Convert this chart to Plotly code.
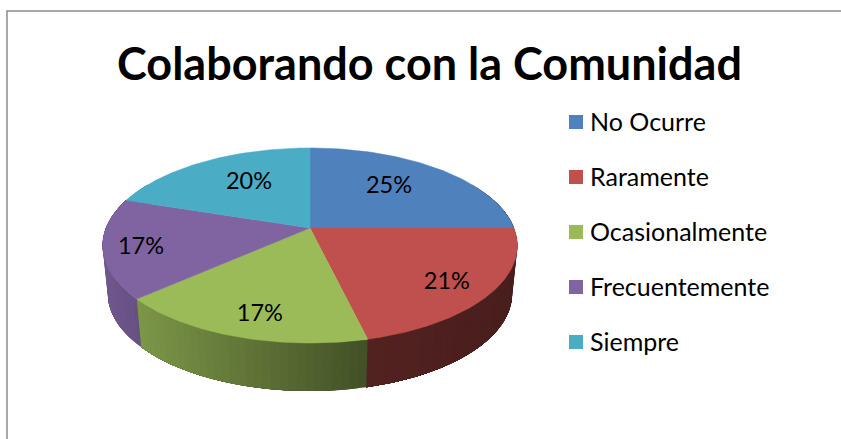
import numpy as np
import plotly.graph_objects as go

title = "Colaborando con la Comunidad"
categories = ["No Ocurre", "Raramente", "Ocasionalmente", "Frecuentemente", "Siempre"]
values = [25, 21.25, 17.2, 16.55, 20]
colors = ["#4F81BD", "#C0504D", "#9BBB59", "#8064A2", "#4BACC6"]

# pie projection (pixel-space axes), a tilted disc with perspective
HUB_X, HUB_Y = 310, 228
RX, RY, PERSP = 204, 94.4, -0.1795
DEPTH, DEPTH_SCALE = 48, 0.975
# label placement relative to each slice's middle angle
label_radius = [0.651, 0.795, 0.804, 0.822, 0.638]
label_nudge = [-4.6, 1.7, -2.2, -1.1, 5.0]
LABEL_DY = 2
legend_y = [122, 177, 232, 287, 342]
LEGEND_X = 576
LEGEND_TEXT_X = 590
LEGEND_TEXT_DY = 2.5


def project(u, v):
    d = 1 + PERSP * v
    return HUB_X + RX * u / d, HUB_Y + RY * v / d


def top(theta):
    t = np.radians(theta)
    return project(np.sin(t), -np.cos(t))


def bottom(theta):
    x, y = top(theta)
    return HUB_X + DEPTH_SCALE * (x - HUB_X), y + DEPTH


def shade(hex_color, x):
    f = np.interp(x, [102, 140, 368, 516], [0.88, 0.80, 0.43, 0.38])
    rgb = [int(hex_color[i:i + 2], 16) for i in (1, 3, 5)]
    return "rgb({},{},{})".format(*[int(c * f) for c in rgb])


fig = go.Figure()
edges = np.concatenate([[0], np.cumsum(values)]) / sum(values) * 360

# side walls: nested polygons, painted so each overlaps the next to avoid seams
for i, c in enumerate(colors):
    a0, a1 = max(edges[i], 60), min(edges[i + 1], 300)
    if a1 <= a0:
        continue
    steps = np.linspace(a0, a1, max(2, int((a1 - a0) / 2) + 1))
    for s0, s1 in zip(steps[:-1], steps[1:]):
        arc = np.linspace(s0, a1, 40)
        xt, yt = top(arc)
        xb, yb = bottom(arc[::-1])
        col = shade(c, float(top((s0 + s1) / 2)[0]))
        fig.add_trace(go.Scatter(x=np.r_[xt, xb], y=np.r_[yt, yb], mode="lines", fill="toself",
                                 fillcolor=col, line=dict(width=0), hoverinfo="skip",
                                 showlegend=False))

# top faces
for i, c in enumerate(colors):
    th = np.linspace(edges[i], edges[i + 1], 80)
    xs, ys = top(th)
    fig.add_trace(go.Scatter(x=np.r_[HUB_X, xs, HUB_X], y=np.r_[HUB_Y, ys, HUB_Y], mode="lines",
                             fill="toself", fillcolor=c, line=dict(color=c, width=0.5),
                             name=categories[i], hoverinfo="skip", showlegend=False))

# percentage labels
mids = (edges[:-1] + edges[1:]) / 2 + np.array(label_nudge)
t = np.radians(mids)
lx, ly = project(np.array(label_radius) * np.sin(t), -np.array(label_radius) * np.cos(t))
fig.add_trace(go.Scatter(x=lx, y=ly + LABEL_DY, mode="text", text=[f"{round(v)}%" for v in values],
                         textposition="middle center",
                         textfont=dict(family="Lato", size=23.5, color="#000000"),
                         hoverinfo="skip", showlegend=False))

# legend
fig.add_trace(go.Scatter(x=[LEGEND_X] * 5, y=legend_y, mode="markers",
                         marker=dict(symbol="square", size=14, color=colors),
                         hoverinfo="skip", showlegend=False))
fig.add_trace(go.Scatter(x=[LEGEND_TEXT_X] * 5, y=np.array(legend_y) + LEGEND_TEXT_DY, mode="text",
                         text=categories, textposition="middle right",
                         textfont=dict(family="Lato", size=25, color="#000000"),
                         hoverinfo="skip", showlegend=False))

fig.update_layout(
    width=841, height=439, margin=dict(l=0, r=0, t=0, b=0),
    paper_bgcolor="white", plot_bgcolor="white", showlegend=False,
    xaxis=dict(range=[0, 841], visible=False, fixedrange=True),
    yaxis=dict(range=[439, 0], visible=False, fixedrange=True),
    annotations=[dict(text=f"<b>{title}</b>", x=429.5, y=63, xref="x", yref="y", showarrow=False,
                      font=dict(family="Lato", size=45, color="#000000"))],
    shapes=[dict(type="path", path="M 7 439 L 7 11 L 841 11", xref="x", yref="y",
                 line=dict(color="#8C8C8C", width=1.5))],
)
fig.write_html("out.html", config={"displayModeBar": False},
               post_script="document.body.style.margin='0';document.documentElement.style.overflow='hidden';")
